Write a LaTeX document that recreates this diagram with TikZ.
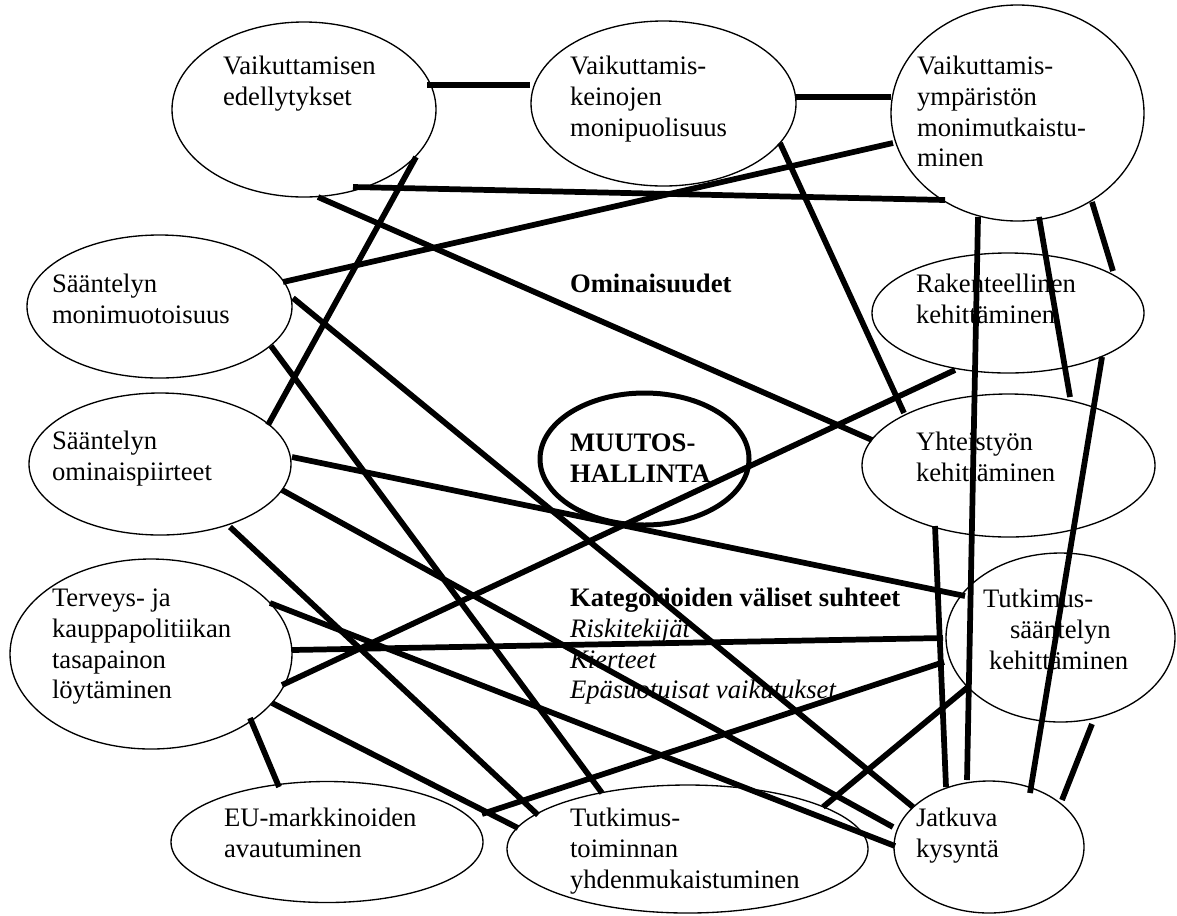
\documentclass[tikz,border=0pt]{standalone}
\usepackage{fontspec}
\setmainfont{Liberation Serif}
\usetikzlibrary{shapes.geometric}
\begin{document}
\begin{tikzpicture}[x=0.75pt,y=-0.75pt,
  oval/.style 2 args={ellipse, draw, line width=1pt, inner sep=0pt, outer sep=0pt,
    minimum width=#1*1.5pt, minimum height=#2*1.5pt},
  core/.style 2 args={oval={#1}{#2}, line width=3.75pt},
  txt/.style={anchor=north west, inner sep=0pt, outer sep=0pt, align=left,
    font=\fontsize{20}{23}\selectfont},
  link/.style={line width=4.3pt}]
\useasboundingbox (0,0) rectangle (1177,915);

% ovals
\node[oval={132}{87.5}]   (ve) at (304,109.5) {};
\node[oval={132.5}{82.5}] (vk) at (663.5,103.5) {};
\node[oval={126.5}{108}]  (vy) at (1017.5,113) {};
\node[oval={132.5}{71.5}] (sm) at (159.5,306.5) {};
\node[oval={131}{71}]     (so) at (160,464) {};
\node[oval={141}{95}]     (tp) at (151,654) {};
\node[oval={156}{60.5}]   (eu) at (327,842) {};
\node[oval={180.5}{64}]   (tt) at (687.5,849) {};
\node[oval={95}{66}]      (jk) at (989,847) {};
\node[oval={136}{60}]     (rk) at (1008,313) {};
\node[oval={146.5}{71.5}] (yk) at (1008.5,465.5) {};
\node[oval={114.5}{84.5}] (ts) at (1060.5,637.5) {};
\node[core={104.5}{66}]   (mh) at (644.5,459) {};

% labels
\node[txt] (ve-t) at (223,53.5) {\strut Vaikuttamisen\\edellytykset};
\node[txt] (vk-t) at (570,53.5) {\strut Vaikuttamis-\\keinojen\\monipuolisuus};
\node[txt] (vy-t) at (917,53.5) {\strut Vaikuttamis-\\ympäristön\\monimutkaistu-\\minen};
\node[txt] (sm-t) at (52,271.5) {\strut Sääntelyn\\monimuotoisuus};
\node[txt] (so-t) at (52,428.5) {\strut Sääntelyn\\ominaispiirteet};
\node[txt] (tp-t) at (52,585.5) {\strut Terveys- ja\\kauppapolitiikan\\tasapainon\\löytäminen};
\node[txt] (eu-t) at (224,805.5) {\strut EU-markkinoiden\\avautuminen};
\node[txt] (tt-t) at (570,805.5) {\strut Tutkimus-\\toiminnan\\yhdenmukaistuminen};
\node[txt] (jk-t) at (916,805.5) {\strut Jatkuva\\kysyntä};
\node[txt] (rk-t) at (916,271.5) {\strut Rakenteellinen\\kehittäminen};
\node[txt] (yk-t) at (916,429.5) {\strut Yhteistyön\\kehittäminen};
\node[txt] (ts-t) at (983,586.5) {\strut Tutkimus-\\\hspace*{20.25pt}sääntelyn\\\hspace*{4.5pt}kehittäminen};
\node[txt, font=\fontsize{20}{23}\selectfont\bfseries] (mh-t) at (570,430.5) {\strut MUUTOS-\\HALLINTA};
\node[txt, font=\fontsize{20}{23}\selectfont\bfseries] (om) at (570,271.5) {\strut Ominaisuudet};
\node[txt] (ka) at (570,585.5) {\strut\textbf{Kategorioiden väliset suhteet}\\\textit{Riskitekijät}\\\textit{Kierteet}\\\textit{Epäsuotuisat vaikutukset}};

% connectors
\draw[link] ([shift={(123,-24.5)}]ve.center) -- ([shift={(-133.5,-18.5)}]vk.center);
\draw[link] ([shift={(132.5,-6.5)}]vk.center) -- ([shift={(-126.5,-16)}]vy.center);
\draw[link] ([shift={(-124.5,30)}]vy.center) -- ([shift={(123.5,-24.5)}]sm.center);
\draw[link] ([shift={(49,77.5)}]ve.center) -- ([shift={(-72.5,87)}]vy.center);
\draw[link] ([shift={(14,87.5)}]ve.center) -- ([shift={(-136.5,-25.5)}]yk.center);
\draw[link] ([shift={(112,47.5)}]ve.center) -- ([shift={(108,-39)}]so.center);
\draw[link] ([shift={(116.5,39.5)}]vk.center) -- ([shift={(-104.5,-52.5)}]yk.center);
\draw[link] ([shift={(-39.5,104)}]vy.center) -- ([shift={(-22,-67)}]jk.center);
\draw[link] ([shift={(-73.5,60.5)}]yk.center) -- ([shift={(-43,-60)}]jk.center);
\draw[link] ([shift={(21.5,104)}]vy.center) -- ([shift={(61.5,-68.5)}]yk.center);
\draw[link] ([shift={(74.5,89)}]vy.center) -- ([shift={(105,-42)}]rk.center);
\draw[link] ([shift={(94,44)}]rk.center) -- ([shift={(41,-54)}]jk.center);
\draw[link] ([shift={(-53,57)}]rk.center) -- ([shift={(131,31)}]tp.center);
\draw[link] ([shift={(133.5,-8.5)}]sm.center) -- ([shift={(-76,-40)}]jk.center);
\draw[link] ([shift={(111.5,39.5)}]sm.center) -- ([shift={(-85.5,-56)}]tt.center);
\draw[link] ([shift={(132,-7)}]so.center) -- ([shift={(-95.5,-41.5)}]ts.center);
\draw[link] ([shift={(122,26)}]so.center) -- ([shift={(-96,-20)}]jk.center);
\draw[link] ([shift={(70,63)}]so.center) -- ([shift={(-149.5,-34)}]tt.center);
\draw[link] ([shift={(141,-4)}]tp.center) -- ([shift={(-117.5,0.5)}]ts.center);
\draw[link] ([shift={(119,-51)}]tp.center) -- ([shift={(-94,-1)}]jk.center);
\draw[link] ([shift={(99,64)}]tp.center) -- ([shift={(-48,-55)}]eu.center);
\draw[link] ([shift={(121,49)}]tp.center) -- ([shift={(-169.5,-21)}]tt.center);
\draw[link] ([shift={(-116.5,24.5)}]ts.center) -- ([shift={(155,-28)}]eu.center);
\draw[link] ([shift={(-92.5,49.5)}]ts.center) -- ([shift={(135.5,-42)}]tt.center);
\draw[link] ([shift={(31.5,86.5)}]ts.center) -- ([shift={(73,-47)}]jk.center);
\end{tikzpicture}
\end{document}
